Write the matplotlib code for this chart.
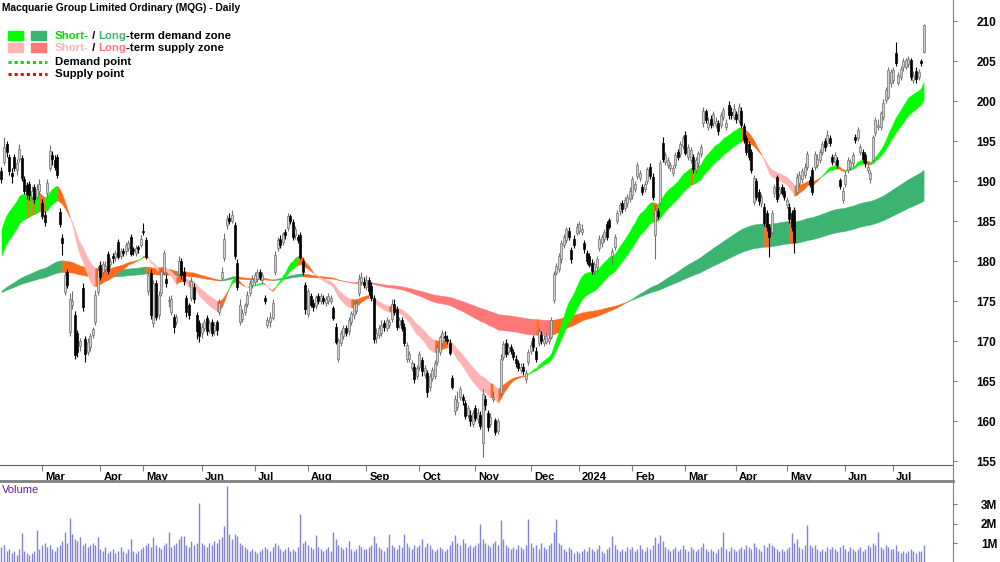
import matplotlib
matplotlib.use("Agg")
import matplotlib.pyplot as plt
from matplotlib.patches import Rectangle
from matplotlib.lines import Line2D
from matplotlib.transforms import ScaledTranslation
import numpy as np
import pandas as pd

plt.rcParams['font.family'] = ['Liberation Sans', 'DejaVu Sans']

# trading days shown (ASX holidays removed)
holidays = ['2023-04-07', '2023-04-10', '2023-04-25', '2023-06-12', '2023-12-25', '2023-12-26',
            '2024-01-01', '2024-01-26', '2024-03-29', '2024-04-01', '2024-04-25', '2024-06-10']

# one line per month: Feb-23 ... Jul-24
opens = [
    191.2, 192.4, 194.6, 193.0, 191.0, 193.0, 191.4, 192.8, 192.9, 190.2, 189.5, 189.6, 188.0, 189.2, 188.0, 188.8,
    187.2, 185.7, 188.5, 191.6, 193.2, 192.6, 193.0, 186.1, 182.9, 176.1, 178.6, 171.1, 174.5, 173.3, 171.0, 169.4, 176.6, 170.2, 168.6, 169.2, 170.8, 172.4, 176.1,
    179.5, 178.6, 179.0, 180.9, 179.6, 180.6, 180.5, 182.4, 180.6, 181.3, 181.2, 181.6, 183.0, 181.5, 181.0, 181.8, 182.0,
    183.8, 182.6, 176.2, 178.5, 172.2, 177.2, 173.2, 176.0, 178.6, 177.8, 175.0, 173.6, 173.0, 172.4, 178.4, 180.0, 178.6, 175.4, 174.5, 175.4, 176.8, 173.3, 172.2,
    171.0, 171.6, 172.9, 171.4, 172.4, 171.2, 172.4, 173.6, 177.9, 180.4, 184.5, 185.4, 185.0, 184.5, 179.8, 172.4, 172.8, 173.6, 174.6, 176.0, 177.0,
    177.4, 177.8, 178.6, 177.6, 175.4, 172.0, 172.4, 172.9, 178.6, 181.6, 182.8, 182.4, 183.6, 184.1, 185.6, 184.9, 183.2, 183.0, 183.3, 180.0, 177.0,
    173.4, 175.6, 174.8, 174.4, 175.6, 175.0, 175.4, 174.8, 175.0, 175.0, 174.1, 171.8, 167.8, 169.8, 170.6, 171.6, 171.2, 172.4, 173.2, 173.8, 176.0, 177.4, 177.4,
    176.8, 177.6, 176.9, 175.4, 170.4, 170.8, 171.0, 172.2, 171.6, 172.0, 172.8, 174.6, 174.0, 172.0, 172.6, 171.8, 167.8, 167.8, 166.6, 166.8, 165.6,
    166.8, 167.6, 165.8, 166.0, 164.2, 165.4, 165.6, 167.4, 168.6, 169.8, 170.6, 170.2, 169.8, 165.4, 161.2, 161.8, 163.0, 163.0, 162.2, 160.8, 160.8, 159.6,
    161.6, 160.2, 160.8, 157.3, 162.8, 161.0, 159.6, 162.8, 160.1, 158.8, 163.5, 168.0, 169.8, 168.6, 169.2, 168.6, 167.8, 167.2, 166.4, 166.8, 165.2, 167.4,
    168.8, 170.4, 168.8, 169.7, 170.8, 169.8, 169.9, 170.0, 170.5, 175.1, 178.5, 179.0, 180.2, 182.0, 182.6, 183.8, 181.4, 182.8, 183.5,
    183.8, 183.6, 182.3, 181.0, 180.6, 179.8, 178.8, 179.2, 181.6, 182.2, 182.8, 184.6, 185.1, 180.6, 181.8, 185.0, 186.2, 187.2, 186.6, 187.2, 187.8,
    188.2, 189.0, 190.6, 190.4, 189.2, 189.0, 190.0, 191.8, 190.5, 183.2, 186.2, 187.3, 194.8, 192.4, 192.0, 191.6, 191.0, 192.0, 193.6, 193.4, 194.4,
    195.8, 193.0, 192.6, 193.0, 191.4, 192.3, 193.4, 197.2, 198.8, 196.8, 197.8, 197.2, 197.0, 197.2, 197.0, 198.0, 196.8, 199.5, 198.6, 198.0,
    198.4, 197.6, 198.8, 196.9, 195.4, 194.6, 193.6, 187.4, 190.0, 188.6, 187.2, 186.8, 186.0, 184.2, 183.6, 188.5, 190.5, 188.4, 189.2, 188.8,
    187.0, 186.8, 186.0, 186.4, 188.6, 189.8, 190.2, 190.8, 191.8, 190.1, 191.4, 191.8, 192.0, 192.6, 193.6, 195.0, 194.8, 195.4, 193.0, 192.4, 192.6, 190.1, 187.6,
    189.6, 191.4, 191.8, 192.2, 195.5, 195.4, 193.6, 193.6, 193.2, 191.4, 190.2, 192.6, 196.0, 196.8, 196.8, 198.0, 200.1, 200.5, 202.2,
    202.6, 206.0, 202.3, 203.0, 204.2, 204.3, 204.6, 205.1, 202.6, 203.8, 203.0, 205.0, 206.1,
]
highs = [
    191.8, 195.5, 195.0, 193.4, 191.6, 193.4, 192.8, 194.6, 193.2, 190.6, 189.9, 190.0, 189.4, 189.6, 189.6, 190.2,
    187.8, 186.2, 190.2, 194.5, 193.8, 193.3, 193.4, 186.6, 183.4, 178.8, 179.0, 176.0, 176.2, 173.8, 171.4, 170.4, 177.2, 170.6, 170.4, 171.0, 171.8, 176.4, 179.4,
    180.0, 180.0, 180.0, 181.2, 180.4, 181.0, 181.4, 182.8, 181.6, 181.6, 182.4, 182.6, 183.4, 181.8, 182.0, 182.0, 183.2,
    184.8, 183.0, 178.8, 179.0, 177.6, 177.6, 176.2, 179.2, 181.4, 178.4, 175.6, 175.8, 173.4, 173.4, 180.6, 180.4, 179.2, 175.8, 174.8, 178.0, 177.2, 173.6, 172.6,
    172.2, 172.8, 173.2, 172.6, 172.8, 172.4, 172.6, 175.2, 179.2, 183.5, 185.8, 186.0, 186.4, 184.9, 180.2, 175.2, 174.0, 174.8, 176.2, 177.6, 178.2,
    178.6, 179.0, 179.0, 178.6, 175.8, 173.0, 173.6, 175.2, 181.2, 183.0, 183.2, 183.6, 184.0, 186.0, 185.9, 185.2, 184.4, 183.4, 183.6, 180.4, 177.4,
    176.6, 176.0, 175.2, 175.8, 176.0, 176.0, 175.8, 175.6, 176.0, 175.8, 174.4, 172.2, 170.4, 171.4, 172.0, 172.0, 173.0, 173.8, 175.0, 175.2, 178.4, 178.6, 178.0,
    178.2, 178.0, 177.4, 175.8, 171.6, 172.0, 172.6, 172.6, 173.0, 172.8, 175.2, 175.2, 174.4, 173.0, 173.0, 172.2, 169.9, 168.8, 167.6, 167.2, 167.0,
    168.8, 168.0, 167.0, 166.4, 166.0, 166.8, 167.6, 169.6, 170.8, 171.4, 171.2, 170.8, 170.2, 165.8, 163.2, 163.8, 164.4, 163.4, 162.6, 162.0, 161.4, 161.4,
    162.0, 161.6, 161.2, 164.0, 163.2, 161.4, 161.0, 163.8, 160.4, 160.4, 168.4, 170.0, 170.2, 169.8, 169.6, 169.0, 168.2, 167.6, 167.2, 167.2, 166.4, 169.0,
    170.0, 170.8, 169.2, 171.6, 171.2, 170.8, 171.0, 170.8, 173.0, 178.8, 179.8, 181.0, 182.6, 183.4, 184.2, 184.2, 181.8, 183.2, 184.8,
    185.0, 184.6, 182.6, 181.4, 181.0, 180.2, 180.0, 180.6, 183.2, 183.4, 184.0, 185.0, 185.4, 181.6, 183.4, 186.4, 187.4, 187.6, 188.0, 188.4, 189.2,
    190.6, 190.0, 192.4, 191.4, 189.6, 190.0, 191.8, 192.2, 191.0, 187.0, 186.6, 192.6, 195.5, 193.6, 193.0, 192.4, 192.0, 193.6, 194.0, 195.0, 195.8,
    196.2, 194.6, 194.2, 193.4, 193.0, 193.8, 194.6, 199.2, 199.0, 198.0, 198.2, 198.8, 198.0, 197.6, 198.6, 199.2, 197.8, 200.0, 199.2, 199.6,
    198.8, 199.8, 199.2, 197.2, 195.8, 195.0, 194.0, 190.8, 190.4, 189.0, 188.4, 187.2, 186.4, 184.6, 186.4, 189.6, 190.8, 189.4, 189.6, 189.2,
    188.0, 187.2, 186.4, 186.8, 191.0, 191.2, 191.6, 192.2, 193.8, 190.6, 191.8, 193.8, 193.4, 194.0, 195.0, 195.4, 196.4, 195.8, 193.4, 193.6, 193.0, 190.4, 189.2,
    191.2, 193.0, 192.8, 193.6, 195.9, 196.8, 194.6, 194.0, 193.6, 192.2, 191.4, 195.8, 198.0, 197.8, 198.8, 200.2, 201.8, 204.2, 204.0,
    204.2, 207.4, 203.6, 204.4, 205.4, 205.4, 205.6, 205.4, 203.8, 204.2, 204.0, 205.2, 209.6,
]
lows = [
    189.8, 192.0, 193.0, 190.8, 189.8, 191.2, 190.8, 192.4, 190.0, 188.4, 187.8, 187.6, 187.6, 187.3, 187.6, 188.2,
    185.2, 184.4, 188.0, 191.2, 192.0, 191.4, 190.4, 184.2, 180.8, 175.8, 176.6, 170.6, 174.0, 167.8, 168.0, 168.8, 173.8, 167.4, 168.2, 168.8, 170.4, 172.0, 175.8,
    177.6, 178.2, 178.6, 178.4, 179.2, 179.8, 180.0, 180.2, 180.2, 180.6, 180.8, 181.2, 180.6, 180.8, 180.6, 181.0, 181.8,
    183.2, 180.2, 175.8, 172.8, 171.8, 172.6, 172.8, 175.6, 178.2, 176.8, 174.2, 173.2, 171.0, 172.0, 178.0, 177.8, 177.0, 173.0, 172.8, 175.0, 174.8, 170.2, 169.9,
    170.4, 171.2, 170.8, 171.0, 170.6, 170.8, 170.8, 173.2, 177.6, 180.0, 184.0, 184.6, 184.8, 180.2, 176.4, 172.0, 172.4, 173.2, 174.2, 175.6, 176.6,
    177.0, 177.4, 177.6, 177.2, 174.6, 171.6, 171.8, 172.6, 178.2, 181.2, 181.6, 182.0, 182.8, 183.8, 184.6, 182.6, 182.8, 182.2, 180.2, 178.2, 173.4,
    173.0, 174.2, 173.8, 174.0, 174.6, 174.6, 174.6, 174.4, 174.6, 174.6, 172.6, 169.6, 167.4, 169.4, 170.2, 170.6, 170.8, 172.0, 172.8, 173.4, 175.6, 177.0, 176.6,
    176.4, 175.8, 175.0, 169.8, 169.8, 170.4, 170.6, 171.2, 171.2, 171.6, 172.4, 173.2, 171.4, 171.6, 171.2, 169.4, 167.4, 167.4, 166.2, 164.8, 165.2,
    166.4, 165.6, 165.4, 163.0, 163.8, 165.0, 165.2, 167.0, 168.2, 169.4, 170.0, 169.6, 168.2, 164.0, 160.8, 161.4, 162.6, 162.0, 160.2, 160.4, 159.4, 159.2,
    160.0, 159.8, 159.0, 155.5, 161.4, 158.8, 159.2, 162.4, 158.2, 158.4, 163.0, 167.6, 168.0, 168.2, 168.4, 167.6, 166.8, 166.2, 166.0, 165.8, 164.8, 167.0,
    168.4, 168.8, 167.4, 169.4, 169.6, 169.4, 169.6, 169.6, 170.2, 174.8, 178.2, 178.6, 179.8, 181.6, 182.2, 182.6, 179.8, 181.6, 183.2,
    183.4, 183.2, 181.0, 179.6, 179.2, 178.4, 178.4, 178.8, 181.2, 181.8, 182.4, 182.6, 184.0, 179.6, 181.4, 184.6, 185.8, 186.0, 186.2, 186.8, 187.4,
    187.8, 188.6, 190.2, 190.0, 188.2, 188.6, 189.6, 190.2, 187.6, 180.2, 185.2, 187.0, 192.4, 192.0, 191.6, 191.2, 190.6, 191.6, 192.6, 193.0, 194.0,
    193.2, 192.6, 192.2, 191.0, 191.0, 191.8, 193.0, 196.8, 197.2, 196.4, 196.6, 196.8, 196.6, 195.8, 196.6, 197.6, 196.4, 197.8, 197.8, 197.6,
    197.2, 197.2, 196.6, 194.8, 193.2, 192.6, 191.0, 187.0, 187.6, 187.0, 186.8, 184.4, 183.8, 180.5, 183.2, 188.0, 187.4, 188.0, 188.2, 187.6,
    186.6, 184.8, 183.8, 181.0, 188.2, 189.4, 189.8, 190.4, 191.4, 189.2, 188.2, 191.4, 191.6, 192.2, 193.2, 193.8, 194.4, 194.4, 192.0, 192.0, 191.6, 189.0, 187.2,
    189.2, 191.0, 191.4, 191.8, 194.8, 195.0, 193.2, 192.4, 191.8, 191.0, 189.8, 192.2, 195.6, 196.4, 196.4, 197.6, 199.8, 200.2, 201.8,
    202.2, 204.4, 202.0, 202.6, 203.8, 204.0, 204.2, 202.6, 202.2, 202.2, 202.6, 204.4, 206.0,
]
closes = [
    190.2, 194.3, 193.6, 191.2, 190.6, 191.6, 192.3, 194.0, 190.4, 188.7, 188.4, 188.2, 188.8, 187.8, 189.0, 189.6,
    185.6, 184.9, 189.8, 193.8, 192.8, 191.8, 190.8, 184.6, 182.2, 178.2, 177.0, 175.3, 175.0, 168.2, 168.6, 170.0, 174.2, 168.4, 169.9, 170.6, 171.5, 175.8, 178.9,
    178.0, 179.6, 179.4, 178.7, 180.0, 180.4, 181.0, 180.5, 181.3, 181.0, 182.0, 182.3, 180.9, 181.2, 181.6, 181.5, 182.8,
    183.6, 180.5, 178.3, 173.2, 177.3, 173.0, 175.8, 178.8, 181.0, 177.2, 175.0, 175.3, 171.8, 173.0, 180.0, 178.2, 177.5, 173.6, 173.2, 177.5, 175.2, 171.2, 170.6,
    171.8, 172.4, 171.2, 172.2, 171.0, 172.0, 171.4, 174.8, 178.6, 182.8, 185.3, 185.0, 185.8, 180.6, 176.8, 174.5, 173.5, 174.5, 175.8, 177.2, 177.8,
    178.2, 178.6, 178.0, 178.3, 175.0, 172.6, 173.0, 174.8, 180.8, 182.6, 182.0, 183.4, 183.2, 185.6, 185.0, 183.0, 184.0, 182.6, 180.5, 178.6, 174.0,
    176.2, 174.5, 174.2, 175.5, 175.0, 175.6, 175.0, 175.2, 175.6, 175.4, 172.9, 169.9, 170.1, 171.0, 171.6, 171.0, 172.6, 173.5, 174.6, 174.8, 177.8, 178.0, 177.0,
    177.6, 176.2, 175.4, 170.3, 171.0, 171.6, 172.0, 171.8, 172.6, 172.4, 174.6, 173.6, 171.8, 172.6, 171.6, 169.8, 169.5, 168.4, 167.3, 165.3, 166.6,
    168.4, 166.2, 166.6, 163.6, 165.6, 166.4, 167.2, 169.2, 170.5, 171.0, 170.4, 170.0, 168.5, 164.3, 162.8, 162.4, 164.0, 162.6, 160.6, 161.6, 160.0, 161.0,
    160.4, 161.0, 159.4, 163.4, 162.0, 159.3, 160.5, 163.0, 158.6, 160.0, 167.8, 169.6, 168.4, 169.2, 168.8, 168.0, 167.2, 166.6, 166.8, 166.2, 166.0, 168.6,
    169.5, 169.2, 167.8, 171.2, 170.0, 170.2, 170.6, 170.4, 172.6, 178.4, 179.4, 180.6, 182.2, 183.0, 184.0, 183.0, 180.3, 182.0, 184.3,
    184.6, 184.0, 181.5, 180.0, 179.5, 178.7, 179.6, 180.2, 182.8, 183.0, 183.6, 183.0, 184.3, 181.2, 183.0, 186.0, 187.0, 186.5, 187.6, 188.0, 188.8,
    190.2, 189.6, 192.0, 191.0, 188.6, 189.6, 191.5, 190.6, 188.0, 186.4, 185.6, 192.2, 192.8, 193.2, 192.6, 192.0, 191.6, 193.2, 193.0, 194.6, 195.4,
    193.5, 194.2, 193.9, 191.5, 192.6, 193.5, 194.3, 198.8, 197.6, 197.2, 197.0, 198.4, 197.5, 196.3, 198.3, 198.9, 197.2, 198.3, 198.2, 199.0,
    197.8, 199.2, 197.0, 195.2, 193.6, 193.0, 191.4, 190.4, 188.0, 187.5, 188.0, 184.8, 184.3, 183.0, 186.0, 189.2, 187.7, 189.0, 188.5, 188.0,
    187.6, 185.2, 184.2, 182.4, 190.5, 190.8, 191.2, 191.8, 193.4, 189.6, 188.6, 193.4, 192.8, 193.6, 194.6, 194.2, 195.8, 194.8, 192.4, 193.2, 192.0, 189.4, 188.8,
    190.8, 192.6, 192.4, 193.2, 195.1, 196.4, 194.2, 192.8, 192.2, 191.8, 191.0, 195.5, 197.6, 197.0, 198.5, 199.8, 201.4, 203.9, 203.6,
    203.9, 204.8, 203.2, 204.0, 205.0, 205.1, 205.2, 203.0, 203.3, 202.8, 203.6, 204.8, 209.5,
]
# volume in millions of shares
volumes = [
    0.8, 0.9, 0.6, 0.7, 0.5, 0.6, 0.4, 0.7, 1.55, 0.6, 0.5, 0.4, 0.5, 0.6, 1.7, 0.7,
    0.9, 1.0, 0.8, 0.9, 0.7, 0.6, 0.8, 0.9, 1.1, 1.6, 1.0, 2.3, 1.5, 1.2, 1.1, 1.3, 0.9, 1.0, 0.8, 0.9, 1.0, 0.9, 1.3,
    0.7, 0.6, 0.8, 0.5, 0.6, 0.7, 0.5, 0.6, 0.8, 0.6, 0.5, 0.7, 1.2, 0.6, 0.5, 0.6, 0.7,
    0.8, 0.9, 1.0, 0.8, 1.3, 0.9, 0.8, 0.7, 0.9, 1.0, 1.6, 0.8, 0.9, 1.0, 1.2, 1.4, 1.4, 0.9, 0.8, 1.1, 0.9, 1.0, 3.05,
    1.0, 0.9, 0.8, 1.0, 0.9, 1.1, 1.0, 1.2, 1.3, 1.9, 3.95, 1.5, 1.2, 1.5, 1.4, 1.0, 0.9, 0.8, 0.7, 0.6, 0.7,
    0.6, 0.5, 0.6, 0.7, 0.8, 0.7, 0.6, 0.8, 1.0, 0.9, 0.7, 0.6, 0.7, 0.8, 0.6, 0.7, 0.6, 0.8, 2.5, 1.0, 1.1,
    0.9, 0.8, 0.7, 1.45, 0.8, 0.7, 0.6, 0.7, 0.8, 0.6, 1.6, 1.2, 0.9, 0.8, 0.7, 0.8, 1.1, 0.7, 0.6, 0.7, 0.9, 0.8, 0.7,
    0.7, 0.8, 0.9, 1.4, 1.0, 0.8, 0.7, 0.6, 0.8, 1.5, 0.9, 0.8, 0.7, 0.9, 0.8, 1.5, 1.0, 0.8, 0.7, 0.9, 0.8,
    0.9, 1.2, 0.8, 1.0, 0.9, 0.7, 0.6, 0.7, 0.8, 0.7, 0.6, 0.7, 0.9, 1.1, 1.45, 1.0, 0.9, 1.2, 1.0, 0.8, 0.9, 0.8,
    0.9, 1.0, 2.0, 1.2, 1.0, 0.9, 0.8, 1.0, 1.1, 0.9, 2.2, 1.2, 0.9, 0.8, 0.7, 0.8, 0.7, 0.9, 0.8, 0.7, 0.9, 2.25,
    1.0, 0.8, 0.9, 0.7, 1.0, 0.8, 0.7, 0.9, 1.0, 1.6, 2.25, 1.0, 0.9, 0.7, 0.6, 0.8, 0.7, 0.5, 0.6,
    0.5, 0.6, 0.7, 0.6, 0.8, 0.7, 0.6, 0.7, 0.9, 0.6, 0.5, 0.7, 0.8, 1.4, 0.9, 0.7, 0.6, 0.7, 0.6, 0.8, 0.7,
    0.8, 0.6, 0.7, 0.9, 0.7, 0.6, 0.8, 0.7, 0.9, 1.3, 1.0, 1.45, 1.1, 0.8, 0.7, 0.6, 0.7, 0.8, 0.6, 0.7, 0.9,
    0.7, 0.6, 0.8, 0.7, 0.6, 0.7, 0.8, 1.0, 0.7, 0.6, 0.7, 0.6, 0.5, 0.7, 0.8, 1.6, 0.7, 0.6, 0.8, 0.7,
    0.6, 0.7, 0.8, 0.7, 0.9, 0.8, 0.7, 1.0, 0.8, 0.7, 0.6, 0.9, 0.8, 1.0, 0.9, 0.8, 0.7, 0.6, 0.7, 0.6,
    0.7, 0.8, 1.55, 1.0, 1.2, 0.8, 0.7, 0.9, 1.95, 0.9, 0.8, 0.9, 0.7, 0.6, 0.7, 0.6, 0.8, 0.7, 0.8, 0.7, 0.6, 0.8, 0.9,
    0.7, 0.6, 0.8, 0.7, 0.6, 0.7, 0.8, 0.6, 0.7, 0.9, 0.8, 1.0, 0.9, 1.6, 0.8, 0.7, 0.9, 0.8, 0.7,
    0.7, 0.9, 0.6, 0.5, 0.6, 0.5, 0.6, 0.7, 0.6, 0.5, 0.6, 0.6, 0.9,
]

# zone edges at the left edge of the chart (fast, slow)
short_seed = (184.0, 180.7)
long_seed = (176.3, 176.1)
short_periods = (21, 34)
long_periods = (144, 233)

GREEN_ST, GREEN_LT = '#00ff00', '#3cb371'
PINK_ST, PINK_LT = '#ffb4b4', '#ff7878'
ORANGE = '#ff6a1c'
AXIS_GREY = '#808080'

dates = pd.bdate_range('2023-02-07', '2024-07-17')
dates = dates[~dates.isin(pd.to_datetime(holidays))]

o = np.array(opens); h = np.array(highs); l = np.array(lows); c = np.array(closes)
vol = np.array(volumes)
x = np.arange(len(c))


def ema(vals, n, seed):
    a = 2.0 / (n + 1)
    out = [seed]
    for v in vals[1:]:
        out.append(out[-1] + a * (v - out[-1]))
    return np.array(out)


def zone_colours(fast, slow, up_col, down_col):
    cols = []
    for i in range(len(fast) - 1):
        rising = fast[i + 1] >= fast[i]
        above = fast[i + 1] >= slow[i + 1]
        if rising and above:
            cols.append(up_col)
        elif not rising and not above:
            cols.append(down_col)
        else:
            cols.append(ORANGE)
    return cols


def draw_zone(ax, fast, slow, up_col, down_col):
    cols = zone_colours(fast, slow, up_col, down_col)
    s = 0
    for i in range(1, len(cols) + 1):
        if i == len(cols) or cols[i] != cols[s]:
            ax.fill_between(x[s:i + 1], fast[s:i + 1], slow[s:i + 1], color=cols[s],
                            lw=0.3, edgecolor=cols[s], zorder=2)
            s = i


fig = plt.figure(figsize=(10, 5.62), dpi=100)
W, H = 1000, 562
ax = fig.add_axes([0, 1 - 465 / H, 0.953, 465 / H])
axv = fig.add_axes([0, 0, 0.953, 81 / H])

lt_fast = ema(c, long_periods[0], long_seed[0])
lt_slow = ema(c, long_periods[1], long_seed[1])
st_fast = ema(c, short_periods[0], short_seed[0])
st_slow = ema(c, short_periods[1], short_seed[1])
draw_zone(ax, lt_fast, lt_slow, GREEN_LT, PINK_LT)
draw_zone(ax, st_fast, st_slow, GREEN_ST, PINK_ST)

# candles
up = c >= o
ax.vlines(x[up], l[up], h[up], colors='#707070', lw=0.8, zorder=3)
ax.vlines(x[~up], l[~up], h[~up], colors='black', lw=0.8, zorder=3)
body = np.maximum(np.abs(c - o), 0.12)
ax.bar(x[up], body[up], bottom=np.minimum(o, c)[up], width=0.8,
       color='#d2d2d2', edgecolor='#707070', lw=0.5, zorder=4)
ax.bar(x[~up], body[~up], bottom=np.minimum(o, c)[~up], width=0.8,
       color='black', edgecolor='black', lw=0.5, zorder=4)

ax.set_xlim(-0.58, 375.6)
ax.set_ylim(154.5, 212.625)
for s in ['left', 'top']:
    ax.spines[s].set_visible(False)
ax.spines['right'].set_color(AXIS_GREY)
ax.spines['bottom'].set_color('#606060')
ax.yaxis.tick_right()
ax.set_yticks(np.arange(155, 211, 5))
ax.tick_params(axis='y', length=3, color=AXIS_GREY, pad=14, labelsize=8.5)
for t in ax.get_yticklabels():
    t.set_fontweight('bold')

# month ticks
months = pd.Series(dates.to_period('M'))
starts = [i for i in range(1, len(dates)) if months[i] != months[i - 1]]
labels = ['2024' if dates[i].month == 1 else dates[i].strftime('%b') for i in starts]
ax.set_xticks(starts)
ax.set_xticklabels(labels, ha='left', fontweight='bold', fontsize=8)
ax.tick_params(axis='x', length=4, color=AXIS_GREY, pad=1)
offset = ScaledTranslation(3 / 100, 0, fig.dpi_scale_trans)
for t in ax.get_xticklabels():
    t.set_transform(t.get_transform() + offset)

# volume
axv.vlines(x, 0, vol, colors='#8282d6', lw=1.0)
axv.set_xlim(-0.58, 375.6)
axv.set_ylim(0.05, 4.18)
axv.set_xticks([])
for s in ['left', 'bottom']:
    axv.spines[s].set_visible(False)
axv.spines['right'].set_color(AXIS_GREY)
axv.spines['top'].set_color(AXIS_GREY)
axv.spines['top'].set_linewidth(2)
axv.yaxis.tick_right()
axv.set_yticks([1, 2, 3])
axv.set_yticklabels(['1M', '2M', '3M'], fontweight='bold', fontsize=8.5)
axv.tick_params(axis='y', length=3, color=AXIS_GREY, pad=17)
axv.text(2 / 953, (562 - 490) / 81, 'Volume', transform=axv.transAxes, color='#6a1b9a',
         fontsize=8, va='center', ha='left')


def fx(px):
    return px / W


def fy(py):
    return 1 - py / H


# right axis line runs through the date strip
fig.lines.append(Line2D([fx(953), fx(953)], [fy(465), fy(481)], transform=fig.transFigure,
                        color=AXIS_GREY, lw=0.8))

fig.text(fx(2), fy(8), 'Macquarie Group Limited Ordinary (MQG) - Daily', fontsize=7.4,
         fontweight='bold', va='center', ha='left', color='black')

# legend
for (x0, y0, col) in [(8, 31, GREEN_ST), (31, 31, GREEN_LT), (8, 43, PINK_ST), (31, 43, PINK_LT)]:
    fig.patches.append(Rectangle((fx(x0), fy(y0 + 9)), 15 / W, 9 / H, transform=fig.transFigure,
                                 color=col, zorder=5))
fig.lines.append(Line2D([fx(8), fx(47)], [fy(62), fy(62)], transform=fig.transFigure,
                        color='#00e000', lw=2.2, ls=(0, (1, 1))))
fig.lines.append(Line2D([fx(8), fx(47)], [fy(74), fy(74)], transform=fig.transFigure,
                        color='#ff0000', lw=2.2, ls=(0, (1, 1))))

renderer = fig.canvas.get_renderer()


def rich_text(x0, y0, parts):
    xp = x0
    for s, col in parts:
        t = fig.text(fx(xp), fy(y0), s, color=col, va='center', ha='left', fontsize=8.2,
                     fontweight='bold')
        xp += t.get_window_extent(renderer).width


rich_text(55, 36, [('Short-', '#00e000'), (' / ', 'black'), ('Long', GREEN_LT),
                   ('-term demand zone', 'black')])
rich_text(55, 48, [('Short-', PINK_ST), (' / ', 'black'), ('Long', PINK_LT),
                   ('-term supply zone', 'black')])
rich_text(55, 62, [('Demand point', 'black')])
rich_text(55, 74, [('Supply point', 'black')])

fig.savefig('out.png', dpi=100)
